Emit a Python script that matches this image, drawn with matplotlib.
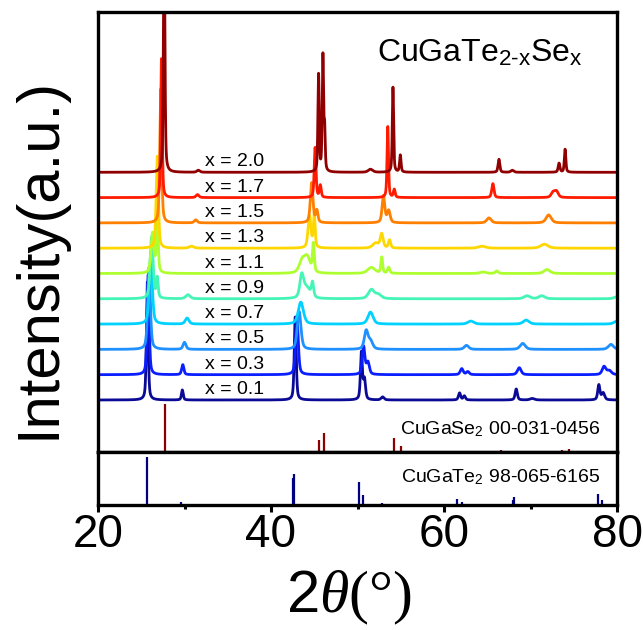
import numpy as np
import matplotlib
matplotlib.use('Agg')
import matplotlib.pyplot as plt
from matplotlib.ticker import MultipleLocator

plt.rcParams['font.family'] = ['Liberation Sans', 'DejaVu Sans']
plt.rcParams['mathtext.fontset'] = 'custom'
plt.rcParams['mathtext.rm'] = 'Liberation Serif'
plt.rcParams['mathtext.it'] = 'Liberation Serif:italic'
plt.rcParams['mathtext.sf'] = 'Liberation Sans'

# compositions, bottom to top
x_labels = ['x = 0.1', 'x = 0.3', 'x = 0.5', 'x = 0.7', 'x = 0.9',
            'x = 1.1', 'x = 1.3', 'x = 1.5', 'x = 1.7', 'x = 2.0']
colors = ['#0a0a96', '#0a1eff', '#1e90ff', '#00d2ff', '#45f5b5',
          '#adff2f', '#ffd700', '#ff7f00', '#ff1a00', '#900000']

# peaks per sample: (2theta, height, hwhm)
pk_01 = [(25.70, 118, 0.12), (29.75, 10, 0.12), (42.80, 83, 0.13), (50.45, 47, 0.13),
         (50.80, 20, 0.15), (52.9, 3, 0.2), (61.8, 7, 0.15), (62.35, 4, 0.15),
         (68.35, 11, 0.15), (70.2, 1.5, 0.3), (77.9, 15, 0.15), (78.4, 7, 0.2)]
pk_03 = [(25.80, 100, 0.14), (29.8, 10, 0.15), (43.0, 58, 0.18), (50.7, 28, 0.18),
         (51.2, 12, 0.2), (62.05, 6, 0.2), (62.75, 3, 0.2), (68.7, 7, 0.25),
         (78.5, 8, 0.25), (79.1, 4, 0.3)]
pk_05 = [(25.9, 82, 0.18), (30.0, 7, 0.2), (43.25, 38, 0.25), (51.0, 18, 0.25),
         (51.5, 8, 0.3), (62.6, 4, 0.3), (69.1, 6, 0.35), (79.3, 5, 0.35)]
pk_07 = [(26.1, 72, 0.2), (30.3, 6, 0.25), (43.45, 22, 0.35), (51.5, 12, 0.35),
         (63.1, 3, 0.4), (69.5, 4, 0.4), (80.0, 3, 0.4)]
pk_09 = [(26.2, 62, 0.2), (26.85, 20, 0.12), (30.4, 4, 0.3), (43.55, 21, 0.25),
         (44.1, 11, 0.5), (44.8, 14, 0.15), (51.6, 9, 0.4), (52.4, 4, 0.4),
         (69.6, 3, 0.4), (71.3, 3, 0.4), (80.0, 2, 0.4)]
pk_11 = [(26.3, 40, 0.2), (26.85, 62, 0.12), (43.6, 12, 0.4), (44.2, 15, 0.4),
         (44.9, 28, 0.12), (51.6, 6, 0.5), (52.8, 16, 0.12), (53.6, 6, 0.15),
         (64.5, 1.5, 0.4), (66.1, 2.5, 0.2), (71.9, 4, 0.4)]
pk_13 = [(26.85, 92, 0.15), (30.8, 2, 0.3), (44.45, 32, 0.2), (45.0, 34, 0.12),
         (52.1, 5, 0.4), (52.8, 14, 0.2), (53.7, 8, 0.15), (64.4, 2, 0.5),
         (71.6, 4, 0.5)]
pk_15 = [(27.25, 134, 0.13), (31.3, 3, 0.2), (44.7, 40, 0.18), (45.3, 12, 0.15),
         (53.0, 27, 0.18), (53.6, 12, 0.2), (65.2, 5, 0.3), (72.1, 8, 0.35)]
pk_17 = [(27.34, 139, 0.1), (31.5, 3, 0.2), (45.1, 50, 0.12), (45.7, 12, 0.12),
         (53.5, 71, 0.1), (54.25, 8, 0.12), (65.65, 14, 0.15), (72.6, 5, 0.25),
         (73.0, 6, 0.25)]
pk_20 = [(27.65, 240, 0.1), (31.6, 2, 0.2), (45.5, 97, 0.09), (46.0, 115, 0.09),
         (46.2, 40, 0.08), (51.5, 3, 0.3), (54.1, 85, 0.09), (54.95, 17, 0.1),
         (66.35, 13, 0.12), (67.9, 2, 0.2), (73.3, 9, 0.12), (74.0, 23, 0.1)]
samples = [pk_01, pk_03, pk_05, pk_07, pk_09, pk_11, pk_13, pk_15, pk_17, pk_20]

# reference patterns (2theta, relative intensity)
se_pos = [27.7, 31.7, 32.5, 45.53, 46.1, 54.2, 55.05, 66.6, 67.95, 73.6, 74.4]
se_int = [100, 3, 3, 25, 40, 30, 12, 4, 3, 4, 6]
te_pos = [25.65, 29.6, 42.5, 42.69, 50.2, 50.6, 52.8, 61.5, 62.1, 67.95, 68.15,
          70.2, 77.8, 78.3]
te_int = [100, 7, 56, 65, 48, 21, 4, 12, 6, 10, 16, 2, 23, 10]


def profile(tt, peaks, eta=0.5):
    y = np.zeros_like(tt)
    for c, h, w in peaks:
        d = ((tt - c) / w) ** 2
        y += h * (eta / (1 + d) + (1 - eta) * np.exp(-np.log(2) * d))
    return y


tt = np.linspace(20, 80, 6001)
step = 25.3

fig = plt.figure(figsize=(6.43, 6.3), dpi=100)
ax = fig.add_axes([98 / 643, 1 - 452 / 630, 519 / 643, 440 / 630])
ax2 = fig.add_axes([98 / 643, 1 - 505 / 630, 519 / 643, 53 / 630])

for i, (pk, col, lab) in enumerate(zip(samples, colors, x_labels)):
    base = i * step
    ax.plot(tt, base + profile(tt, pk), color=col, lw=2.0)
    ax.text(32.4, base + 6, lab, fontsize=14, va='baseline', ha='left')

ybot = -52
ax.vlines(se_pos, ybot, ybot + np.array(se_int) * 0.48, color='#8b0000', lw=1.6)
ax.set_xlim(20, 80)
ax.set_ylim(ybot, 388)
ax.set_xticks([])
ax.set_yticks([])
ax.text(52.3, 338, 'CuGaTe$_{\\mathsf{2‐x}}$Se$_{\\mathsf{x}}$', fontsize=23,
        va='baseline')
ax.text(0.967, 0.041, 'CuGaSe$_{\\mathsf{2}}$ 00-031-0456', transform=ax.transAxes,
        fontsize=14, ha='right', va='baseline')

ax2.vlines(te_pos, 0, te_int, color='#000080', lw=1.6)
ax2.set_xlim(20, 80)
ax2.set_ylim(0, 110)
ax2.set_yticks([])
ax2.xaxis.set_major_locator(MultipleLocator(20))
ax2.xaxis.set_minor_locator(MultipleLocator(10))
ax2.tick_params(axis='x', which='major', direction='out', length=5, width=2.2,
                labelsize=33, pad=1)
ax2.tick_params(axis='x', which='minor', direction='out', length=3, width=2.2)
ax2.text(0.967, 0.434, 'CuGaTe$_{\\mathsf{2}}$ 98-065-6165', transform=ax2.transAxes,
         fontsize=14, ha='right', va='baseline')

for a in (ax, ax2):
    for s in a.spines.values():
        s.set_linewidth(2.4)

fig.text(349 / 643, 1 - 612 / 630, '2$\\mathit{\\theta}\\mathrm{(°)}$', fontsize=43,
         ha='center', va='baseline')
fig.text(39 / 643, 1 - 258 / 630, 'Intensity(a.u.)', fontsize=43, rotation=90,
         ha='center', va='center')

fig.savefig('out.png', dpi=100)
